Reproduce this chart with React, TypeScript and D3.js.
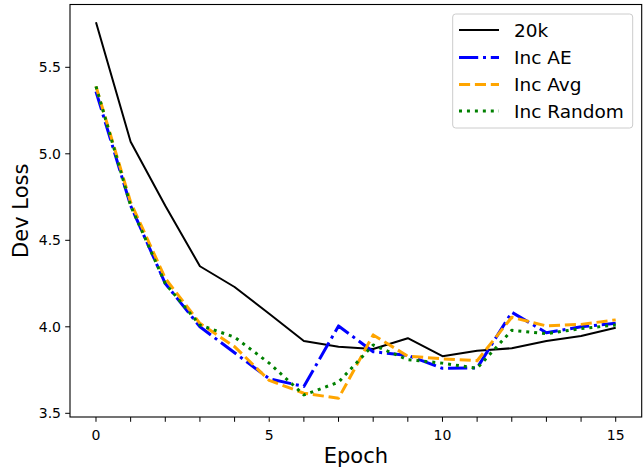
import React from "react";
import * as d3 from "d3";

const epochs = [0, 1, 2, 3, 4, 5, 6, 7, 8, 9, 10, 11, 12, 13, 14, 15];
const base20k = [5.76, 5.07, 4.70, 4.35, 4.23, 4.075, 3.918, 3.885, 3.872, 3.934, 3.83, 3.862, 3.876, 3.918, 3.947, 3.995];
const incAE = [5.36, 4.70, 4.25, 4.0, 3.85, 3.70, 3.655, 4.005, 3.856, 3.835, 3.76, 3.762, 4.084, 3.966, 4.0, 4.02];
const incAvg = [5.39, 4.72, 4.28, 4.02, 3.885, 3.69, 3.616, 3.587, 3.953, 3.83, 3.815, 3.804, 4.055, 4.005, 4.014, 4.04];
const incRandom = [5.39, 4.70, 4.25, 4.01, 3.94, 3.79, 3.606, 3.68, 3.895, 3.81, 3.79, 3.76, 3.98, 3.96, 3.99, 4.01];

const seriesNames = ["20k", "Inc AE", "Inc Avg", "Inc Random"];
const xTickLabels = [0, 5, 10, 15];
const yTickLabels = [3.5, 4.0, 4.5, 5.0, 5.5];

const W = 644;
const H = 467;
const L = 70, R = 641.7, T = 4.5, B = 417;

const FONT = "DejaVu Sans, sans-serif";

const styles = [
  { color: "#000000", width: 2, dash: "none" },
  { color: "#0000ff", width: 3, dash: "19.2,4.8,3,4.8" },
  { color: "#ffa500", width: 3, dash: "11.1,4.8" },
  { color: "#008000", width: 3, dash: "3,4.95" },
];

export default function App() {
  const x = d3.scaleLinear().domain([-0.75, 15.75]).range([L, R]);
  const pxPerUnit = (413.3 - 67.3) / 2;
  const yTop = 5.5 + (67.3 - T) / pxPerUnit;
  const yBot = 3.5 - (B - 413.3) / pxPerUnit;
  const y = d3.scaleLinear().domain([yBot, yTop]).range([B, T]);

  const data = [base20k, incAE, incAvg, incRandom];
  const line = d3
    .line<number>()
    .x((_, i) => x(epochs[i]))
    .y((d) => y(d));

  const legendRows = [30, 57.5, 84.5, 111];

  return (
    <svg
      width={W}
      height={H}
      style={{ position: "absolute", left: 0, top: 0, display: "block", background: "#fff" }}
      fontFamily={FONT}
    >
      <rect x={0} y={0} width={W} height={H} fill="#fff" />
      {data.map((d, i) => (
        <path
          key={i}
          d={line(d) || ""}
          fill="none"
          stroke={styles[i].color}
          strokeWidth={styles[i].width}
          strokeDasharray={styles[i].dash}
          strokeLinecap="butt"
          strokeLinejoin="round"
        />
      ))}
      {/* frame */}
      <rect x={L} y={T} width={R - L} height={B - T} fill="none" stroke="#000" strokeWidth={1.1} />
      {/* x ticks */}
      {epochs.map((e) => (
        <line key={"xt" + e} x1={x(e)} x2={x(e)} y1={B} y2={B + 4.8} stroke="#000" strokeWidth={1} />
      ))}
      {xTickLabels.map((v) => (
        <text key={"xl" + v} x={x(v)} y={439.5} fontSize={14} textAnchor="middle" fill="#000">
          {v}
        </text>
      ))}
      {yTickLabels.map((v) => (
        <g key={"y" + v}>
          <line x1={L - 4.8} x2={L} y1={y(v)} y2={y(v)} stroke="#000" strokeWidth={1} />
          <text x={61} y={y(v) + 5} fontSize={14} textAnchor="end" fill="#000">
            {v.toFixed(1)}
          </text>
        </g>
      ))}
      <text x={(L + R) / 2} y={462.5} fontSize={21} textAnchor="middle" fill="#000">
        Epoch
      </text>
      <text
        transform={`translate(28, ${(T + B) / 2}) rotate(-90)`}
        fontSize={21}
        textAnchor="middle"
        fill="#000"
      >
        Dev Loss
      </text>
      {/* legend */}
      <rect x={452.7} y={14} width={180} height={114} rx={3} fill="#fff" fillOpacity={0.8} stroke="#cccccc" strokeWidth={1} />
      {seriesNames.map((name, i) => (
        <g key={name}>
          <line
            x1={459}
            x2={499}
            y1={legendRows[i]}
            y2={legendRows[i]}
            stroke={styles[i].color}
            strokeWidth={styles[i].width}
            strokeDasharray={styles[i].dash}
          />
          <text x={514} y={legendRows[i] + 6.5} fontSize={18.5} fill="#000">
            {name}
          </text>
        </g>
      ))}
    </svg>
  );
}
